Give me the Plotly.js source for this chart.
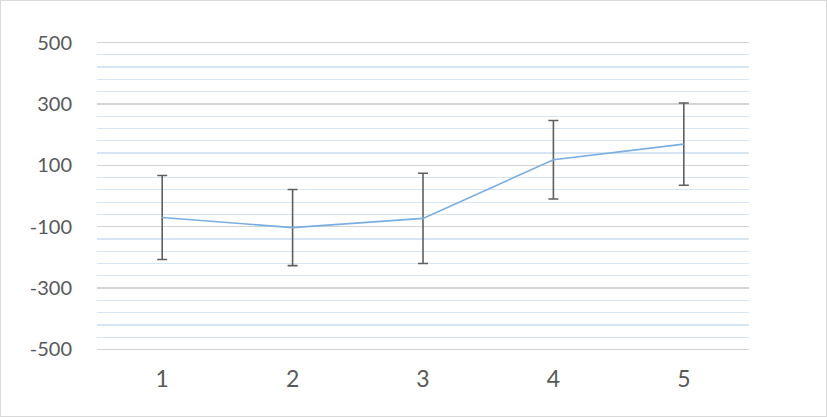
<!DOCTYPE html>
<html>
<head>
<meta charset="utf-8">
<script src="https://cdn.plot.ly/plotly-3.0.1.min.js"></script>
<style>
html,body{margin:0;padding:0;background:#fff;}
#wrap{position:relative;width:827px;height:417px;}
#chart{width:827px;height:417px;}
#frame{position:absolute;left:0;top:0;width:827px;height:417px;box-sizing:border-box;border:1px solid #d9d9d9;pointer-events:none;}
</style>
</head>
<body>
<div id="wrap"><div id="chart"></div><div id="frame"></div></div>
<script>
const categories = ["1", "2", "3", "4", "5"];
const values = [-70, -103, -73, 118, 169];
const errors = [137, 124, 147, 128, 134];
const yTickVals = [-500, -300, -100, 100, 300, 500];
const yTickText = ["-500", "-300", "-100", "100", "300", "500"];

const trace = {
  x: categories,
  y: values,
  type: 'scatter',
  mode: 'lines',
  line: {color: '#7aaee0', width: 1.6},
  error_y: {type: 'data', array: errors, visible: true, color: '#5f5f5f', thickness: 1.6, width: 5},
  hoverinfo: 'skip'
};

const layout = {
  width: 827, height: 417,
  margin: {l: 97, r: 78, t: 41, b: 66},
  paper_bgcolor: '#ffffff', plot_bgcolor: '#ffffff',
  showlegend: false,
  font: {family: 'Lato, "Liberation Sans", sans-serif', color: '#595959'},
  xaxis: {
    type: 'category',
    range: [-0.5, 4.5],
    showgrid: false, zeroline: false, showline: false,
    ticks: '',
    tickfont: {size: 23, color: '#595959'},
    ticklabelstandoff: 12
  },
  yaxis: {
    range: [-505, 505],
    tickmode: 'array',
    tickvals: yTickVals,
    ticktext: yTickText,
    showgrid: true, gridcolor: '#d4d4d4', gridwidth: 1.5,
    zeroline: false, showline: false,
    ticks: '',
    tickfont: {size: 20, color: '#595959'},
    ticklabelstandoff: 24,
    minor: {tick0: -500, dtick: 40, showgrid: true, gridcolor: '#d7e6f5', gridwidth: 1.2, ticks: ''}
  }
};

Plotly.newPlot('chart', [trace], layout, {staticPlot: true, displayModeBar: false});
</script>
</body>
</html>
